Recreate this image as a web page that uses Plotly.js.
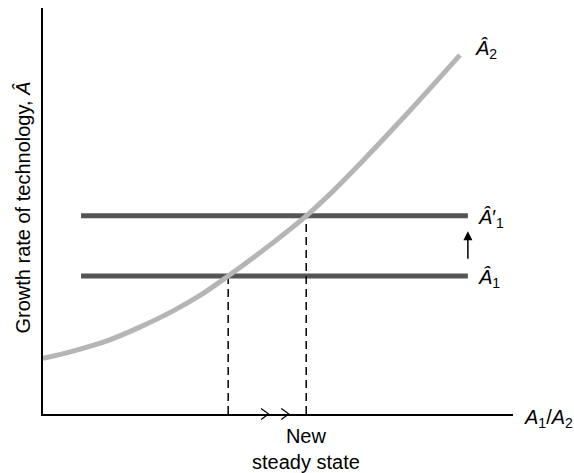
<!DOCTYPE html>
<html>
<head>
<meta charset="utf-8">
<script src="https://cdn.plot.ly/plotly-3.0.1.min.js"></script>
<style>html,body{margin:0;padding:0;background:#fff;}#chart{width:574px;height:473px;}</style>
</head>
<body>
<div id="chart"></div>
<script>
// Curve Â2 (x = A1/A2, y = growth rate)
var curveX = [0, 0.64, 1.36, 2.06, 2.77, 3.34, 3.94, 4.77, 5.62, 6.17, 6.74, 7.74, 8.87];
var curveY = [1.37, 1.55, 1.80, 2.14, 2.54, 2.92, 3.40, 4.11, 4.90, 5.49, 6.16, 7.39, 8.84];
// Horizontal schedules Â1 and Â1'
var levelX = [0.81, 9.04];
var levelA1 = 3.40;
var levelA1p = 4.88;
// Steady states (intersections)
var steadyX = [3.94, 5.60];
var steadyY = [3.40, 4.88];
// Direction chevrons on the x axis
var chevronX = [4.80, 5.23];

var traces = [
  {x: levelX, y: [levelA1, levelA1], mode: 'lines', line: {color: '#555555', width: 5}, hoverinfo: 'skip'},
  {x: levelX, y: [levelA1p, levelA1p], mode: 'lines', line: {color: '#555555', width: 5}, hoverinfo: 'skip'},
  {x: [steadyX[0], steadyX[0]], y: [0, steadyY[0]], mode: 'lines', line: {color: '#000', width: 1.5, dash: '8px,5px'}, hoverinfo: 'skip'},
  {x: [steadyX[1], steadyX[1]], y: [0, steadyY[1]], mode: 'lines', line: {color: '#000', width: 1.5, dash: '8px,5px'}, hoverinfo: 'skip'},
  {x: curveX, y: curveY, mode: 'lines', line: {color: '#b5b5b5', width: 5, shape: 'spline', smoothing: 1}, hoverinfo: 'skip'}
];

var fnt = {family: 'Liberation Sans, Arial, sans-serif', size: 20, color: '#000'};

var shapes = chevronX.map(function (cx) {
  var w = 0.16, h = 0.0135;
  return {type: 'path', xref: 'x', yref: 'paper',
    path: 'M ' + (cx - w) + ',' + h + ' L ' + cx + ',0 L ' + (cx - w) + ',' + (-h),
    line: {color: '#000', width: 1.2}};
});

var annotations = [
  {xref: 'x', yref: 'y', x: 9.15, y: 8.97, xanchor: 'left', yanchor: 'middle', showarrow: false,
   text: '<i>Â</i><sub>2</sub>', font: fnt},
  {xref: 'x', yref: 'y', x: 9.22, y: levelA1p - 0.07, xanchor: 'left', yanchor: 'middle', showarrow: false,
   text: '<i>Â</i>′<sub>1</sub>', font: fnt},
  {xref: 'x', yref: 'y', x: 9.22, y: levelA1 - 0.07, xanchor: 'left', yanchor: 'middle', showarrow: false,
   text: '<i>Â</i><sub>1</sub>', font: fnt},
  {xref: 'x', yref: 'y', x: 9.04, y: 4.50, axref: 'x', ayref: 'y', ax: 9.04, ay: 3.79,
   showarrow: true, arrowhead: 2, arrowsize: 1.2, arrowwidth: 1.5, arrowcolor: '#000', text: ''},
  {xref: 'paper', yref: 'paper', x: 1.02, y: -0.012, xanchor: 'left', yanchor: 'middle', showarrow: false,
   text: '<i>A</i><sub>1</sub>/<i>A</i><sub>2</sub>', font: fnt},
  {xref: 'x', yref: 'paper', x: 5.60, y: -0.022, xanchor: 'center', yanchor: 'top', showarrow: false,
   text: 'New<br>steady state', font: fnt},
  {xref: 'paper', yref: 'paper', x: -0.043, y: 0.508, xanchor: 'center', yanchor: 'middle', showarrow: false,
   textangle: -90, text: 'Growth rate of technology, <i>Â</i>', font: fnt}
];

var layout = {
  width: 574, height: 473,
  margin: {l: 43, r: 61, t: 8, b: 59},
  paper_bgcolor: '#fff', plot_bgcolor: '#fff',
  showlegend: false,
  xaxis: {range: [0, 10], showgrid: false, zeroline: false, showticklabels: false, ticks: '',
          showline: true, linecolor: '#000', linewidth: 2, fixedrange: true},
  yaxis: {range: [0, 10], showgrid: false, zeroline: false, showticklabels: false, ticks: '',
          showline: true, linecolor: '#000', linewidth: 2, fixedrange: true},
  shapes: shapes,
  annotations: annotations
};

Plotly.newPlot('chart', traces, layout, {displayModeBar: false, staticPlot: true});
</script>
</body>
</html>
